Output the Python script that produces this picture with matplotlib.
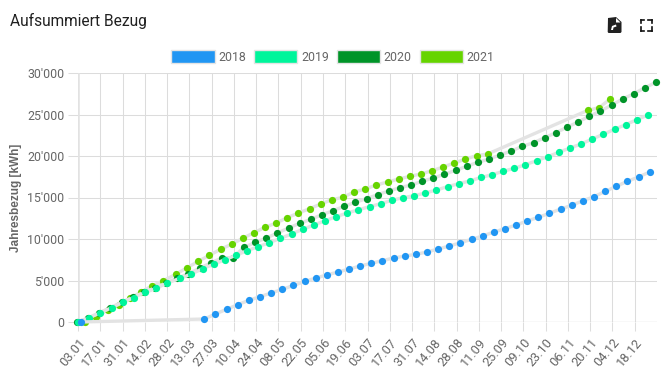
import matplotlib
matplotlib.use("Agg")
import matplotlib.pyplot as plt
from matplotlib.patches import Patch, Polygon, Rectangle
from matplotlib.lines import Line2D

W, H = 665, 375
FONT = "Roboto"
GREY = "#666666"

tick_labels = ["03.01","17.01","31.01","14.02","28.02","13.03","27.03","10.04","24.04","08.05","22.05","05.06","19.06",
               "03.07","17.07","31.07","14.08","28.08","11.09","25.09","09.10","23.10","06.11","20.11","04.12","18.12"]
tick_days = [0,14,28,42,56,70,84,98,112,126,140,154,168,182,196,210,224,238,252,266,280,294,308,322,336,350]
y_ticks = [0,5000,10000,15000,20000,25000,30000]
y_labels = ["0","5'000","10'000","15'000","20'000","25'000","30'000"]

days_2018 = [1.6,79.4,86.4,93.4,100.4,107.4,114.4,121.4,128.4,135.4,142.4,149.4,156.4,163.4,170.4,177.4,184.4,191.4,198.4,
             205.4,212.4,219.4,226.4,233.4,240.4,247.4,254.4,261.4,268.4,275.4,282.4,289.4,296.4,303.4,310.4,317.4,324.4,
             331.4,338.4,345.4,352.4,359.4]
kwh_2018 = [0,360,964,1530,2085,2615,3050,3495,3940,4400,4880,5300,5665,6025,6385,6750,7075,7395,7710,7950,8155,8435,8795,
            9160,9545,9965,10365,10845,11240,11690,12170,12615,13100,13615,14060,14615,15100,15725,16350,16950,17470,18075]

days_2019 = [0.1,7.1,14.1,21.1,28.1,35.1,42.1,49.1,56.1,64.3,71.3,78.3,85.3,92.3,99.3,106.3,113.3,120.3,127.3,134.3,141.3,
             148.3,155.3,162.3,169.3,176.3,183.3,190.3,197.3,204.3,211.3,218.3,225.3,232.3,239.3,246.3,253.3,260.3,267.3,
             274.3,281.3,288.3,295.3,302.3,309.3,316.3,323.3,330.3,337.3,344.3,351.3,358.3]
kwh_2019 = [0,520,1120,1725,2350,2950,3555,4060,4700,5280,5785,6420,6955,7505,8040,8590,9075,9555,10085,10605,11170,11690,
            12205,12690,13135,13530,13895,14255,14665,14980,15220,15545,15905,16305,16665,17000,17410,17750,18160,18520,
            18955,19435,19920,20450,20965,21450,22050,22620,23220,23775,24375,24945]

days_2020 = [-0.6,6.4,13.4,20.4,27.4,34.4,41.4,48.4,55.4,62.4,69.4,76.4,83.4,90.4,97.4,104.4,111.4,118.4,125.4,132.4,139.4,
             146.4,153.4,160.4,167.4,174.4,181.4,188.4,195.4,202.4,209.4,216.4,223.4,230.4,237.4,244.4,251.4,258.4,265.4,
             272.4,279.4,286.4,293.4,300.4,307.4,314.4,321.4,328.4,335.4,342.4,349.4,356.4,363.4]
kwh_2020 = [0,480,1120,1725,2375,2975,3580,4100,4700,5280,5820,6470,7110,7710,7770,8995,9580,10120,10725,11325,11890,12375,
            12930,13415,13945,14430,14860,15345,15785,16185,16510,16955,17350,17800,18280,18760,19245,19640,20125,20605,
            21170,21605,22210,22810,23460,24095,24785,25420,26110,26870,27505,28230,28880]

days_2021 = [4.6,11.6,18.6,25.6,32.6,39.6,46.6,53.6,61.6,68.6,75.6,82.6,89.6,96.6,103.6,110.6,117.6,124.6,131.6,138.6,145.6,
             152.6,159.6,166.6,173.6,180.6,187.6,194.6,201.6,208.6,215.6,222.6,229.6,236.6,243.6,250.6,257.6,320.6,327.6,334.6]
kwh_2021 = [0,640,1445,2085,2855,3590,4375,4975,5760,6545,7300,8040,8760,9375,10085,10760,11410,11930,12570,13135,13650,
            14220,14735,15025,15665,16025,16510,16870,17230,17555,17835,18230,18680,19160,19640,20040,20245,25510,25825,26870]

series = [("2018", days_2018, kwh_2018, "#2196F3"),
          ("2019", days_2019, kwh_2019, "#00F59B"),
          ("2020", days_2020, kwh_2020, "#009428"),
          ("2021", days_2021, kwh_2021, "#66D400")]

fig = plt.figure(figsize=(W/100, H/100), dpi=100)
L, R, T, B = 78, 657, 73, 322
ax = fig.add_axes([L/W, 1-B/H, (R-L)/W, (B-T)/H])
ax.set_xlim(0, 364)
ax.set_ylim(0, 30000)
for s in ax.spines.values():
    s.set_visible(False)
ax.set_xticks(tick_days, tick_labels, rotation=50, ha="right", rotation_mode="anchor",
              fontfamily=FONT, fontsize=9.2, color=GREY)
ax.set_yticks(y_ticks, y_labels, fontfamily=FONT, fontsize=8.9, color=GREY)
ax.tick_params(axis="x", length=6.5, width=0.75, color="#dddddd", pad=3.5)
ax.tick_params(axis="y", length=7.2, width=0.75, color="#dddddd", pad=2.5)
ax.grid(True, color="#dcdcdc", lw=0.75, zorder=0)
ax.set_axisbelow(True)
ax.axvline(0, color="#e2e2e2", lw=1.8, zorder=1)
ax.axhline(0, color="#cfcfcf", lw=0.9, zorder=1)

n = len(series)
for i, (name, x, y, c) in enumerate(series):
    z = 10 + 2*(n-i)
    ax.plot(x, y, color="#e3e3e3", lw=2.4, zorder=z, clip_on=False, solid_capstyle="round")
    ax.plot(x, y, ls="none", marker="o", ms=5.2, mfc=c, mec=c, mew=0, zorder=z+1, clip_on=False)

handles = [Patch(facecolor=c, edgecolor="#e4e4e4", lw=1.0, label=name) for name, _, _, c in series]
leg = fig.legend(handles=handles, loc="center", bbox_to_anchor=(333/W, 1-57/H), ncol=4, frameon=False,
                 prop={"family": FONT, "size": 8.9}, labelcolor=GREY, handlelength=3.5, handleheight=1.2,
                 handletextpad=0.3, columnspacing=0.65, borderpad=0, borderaxespad=0)

fig.text(10/W, 1-21/H, "Aufsummiert Bezug", fontfamily=FONT, fontsize=11.2, color="#212121", va="center", ha="left")
fig.text(16/W, 1-198/H, "Jahresbezug [kWh]", fontfamily="Liberation Sans", fontweight="bold", fontsize=8.5, color=GREY,
         rotation=90, va="center", ha="center")

# toolbar icons
def P(px, py):
    return (px/W, 1-py/H)
fig.add_artist(Polygon([P(608,18),P(616,17),P(621.5,22),P(621.5,32),P(620.5,33),P(608.5,33),P(607.7,32)], closed=True,
                       facecolor="#212121", edgecolor="none"))
fig.add_artist(Polygon([P(616,18),P(620.5,22.5),P(616,22.5)], closed=True, facecolor="white", edgecolor="none"))
fig.add_artist(Polygon([P(611,30),P(612,26),P(616,24.5),P(616.5,26.5),P(613.5,27.5),P(613,30)], closed=True,
                       facecolor="white", edgecolor="none"))
for x0, x1, y0, y1 in [(640.5,644,19.5,19.5),(640.5,640.5,19.5,23),(648,651.5,19.5,19.5),(651.5,651.5,19.5,23),
                       (640.5,644,30.5,30.5),(640.5,640.5,27,30.5),(648,651.5,30.5,30.5),(651.5,651.5,27,30.5)]:
    a, b = P(x0, y0), P(x1, y1)
    fig.add_artist(Line2D([a[0], b[0]], [a[1], b[1]], color="#111111", lw=1.2))

fig.savefig("out.png", dpi=100, facecolor="white")
